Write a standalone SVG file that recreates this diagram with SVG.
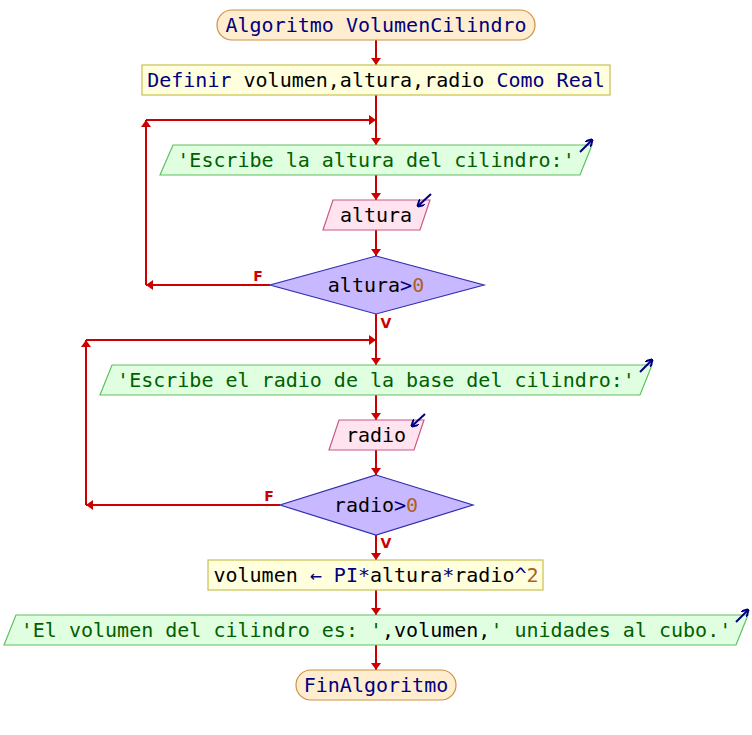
<svg xmlns="http://www.w3.org/2000/svg" width="752" height="735" viewBox="0 0 752 735">
<style>
text{font-family:"DejaVu Sans Mono","Liberation Mono",monospace;font-size:20px;text-anchor:middle}
.term{fill:#ffedd0;stroke:#d09040;stroke-width:1.2}
.proc{fill:#ffffdd;stroke:#c8c050;stroke-width:1.2}
.out{fill:#e0ffe0;stroke:#60c060;stroke-width:1.2}
.inp{fill:#ffe4f0;stroke:#c85888;stroke-width:1.2}
.dec{fill:#c8b8ff;stroke:#3030b0;stroke-width:1.2}
.kw{fill:#000080}
.blk{fill:#000000}
.str{fill:#006000}
.num{fill:#b06020}
.lbl{font-family:"DejaVu Sans",sans-serif;font-size:14px;font-weight:bold;fill:#cc0000}
.ic{stroke:#000080;stroke-width:2;fill:none}
#connectors line,#connectors polyline{stroke:#cc0000;stroke-width:2;fill:none}
</style>
<defs>
<marker id="ah" markerUnits="userSpaceOnUse" markerWidth="7" markerHeight="10" refX="7" refY="5" orient="auto">
<path d="M0,0 L7,5 L0,10 z" fill="#cc0000"/>
</marker>
<marker id="ih" markerUnits="userSpaceOnUse" markerWidth="7" markerHeight="8" refX="6" refY="4" orient="auto">
<path d="M0,0 L7,4 L0,8" fill="none" stroke="#000080" stroke-width="2"/>
</marker>
</defs>
<g id="connectors">
<line x1="376" y1="40" x2="376" y2="65" marker-end="url(#ah)"/>
<line x1="376" y1="95" x2="376" y2="145" marker-end="url(#ah)"/>
<line x1="376" y1="175" x2="376" y2="200" marker-end="url(#ah)"/>
<line x1="376" y1="230" x2="376" y2="256" marker-end="url(#ah)"/>
<line x1="270" y1="285" x2="146" y2="285" marker-end="url(#ah)"/>
<line x1="146" y1="285" x2="146" y2="120" marker-end="url(#ah)"/>
<line x1="146" y1="120" x2="376" y2="120" marker-end="url(#ah)"/>
<line x1="376" y1="314" x2="376" y2="365" marker-end="url(#ah)"/>
<line x1="376" y1="395" x2="376" y2="420" marker-end="url(#ah)"/>
<line x1="376" y1="450" x2="376" y2="475" marker-end="url(#ah)"/>
<line x1="280" y1="505" x2="86" y2="505" marker-end="url(#ah)"/>
<line x1="86" y1="505" x2="86" y2="340" marker-end="url(#ah)"/>
<line x1="86" y1="340" x2="376" y2="340" marker-end="url(#ah)"/>
<line x1="376" y1="535" x2="376" y2="560" marker-end="url(#ah)"/>
<line x1="376" y1="590" x2="376" y2="615" marker-end="url(#ah)"/>
<line x1="376" y1="645" x2="376" y2="670" marker-end="url(#ah)"/>
<text class="lbl" x="258" y="281">F</text>
<text class="lbl" x="386" y="328">V</text>
<text class="lbl" x="269" y="501">F</text>
<text class="lbl" x="386" y="548">V</text>
</g>
<g id="start">
<rect class="term" x="217" y="10" width="318" height="30" rx="15"/>
<text x="376" y="32" class="kw">Algoritmo VolumenCilindro</text>
</g>
<g id="definir">
<rect class="proc" x="142" y="65" width="468" height="30"/>
<text x="376" y="87"><tspan class="kw">Definir</tspan><tspan class="blk"> volumen,altura,radio </tspan><tspan class="kw">Como Real</tspan></text>
</g>
<g id="out1">
<polygon class="out" points="173,145 592,145 580,175 160,175"/>
<text x="376" y="167" class="str">'Escribe la altura del cilindro:'</text>
<line class="ic" x1="580" y1="152" x2="592" y2="140" marker-end="url(#ih)"/>
</g>
<g id="in1">
<polygon class="inp" points="333,200 430,200 420,230 323,230"/>
<text x="376" y="222" class="blk">altura</text>
<line class="ic" x1="431" y1="194" x2="418" y2="206" marker-end="url(#ih)"/>
</g>
<g id="dec1">
<polygon class="dec" points="376,256 484,285 376,314 270,285"/>
<text x="376" y="292"><tspan class="blk">altura</tspan><tspan class="kw">&gt;</tspan><tspan class="num">0</tspan></text>
</g>
<g id="out2">
<polygon class="out" points="112,365 652,365 640,395 100,395"/>
<text x="376" y="387" class="str">'Escribe el radio de la base del cilindro:'</text>
<line class="ic" x1="640" y1="372" x2="652" y2="360" marker-end="url(#ih)"/>
</g>
<g id="in2">
<polygon class="inp" points="339,420 424,420 414,450 329,450"/>
<text x="376" y="442" class="blk">radio</text>
<line class="ic" x1="425" y1="414" x2="412" y2="426" marker-end="url(#ih)"/>
</g>
<g id="dec2">
<polygon class="dec" points="376,475 473,505 376,535 280,505"/>
<text x="376" y="512"><tspan class="blk">radio</tspan><tspan class="kw">&gt;</tspan><tspan class="num">0</tspan></text>
</g>
<g id="assign">
<rect class="proc" x="208" y="560" width="335" height="30"/>
<text x="376" y="582"><tspan class="blk">volumen </tspan><tspan class="kw">←</tspan><tspan class="blk"> </tspan><tspan class="kw">PI*</tspan><tspan class="blk">altura</tspan><tspan class="kw">*</tspan><tspan class="blk">radio</tspan><tspan class="kw">^</tspan><tspan class="num">2</tspan></text>
</g>
<g id="out3">
<polygon class="out" points="16,615 748,615 736,645 4,645"/>
<text x="376" y="637"><tspan class="str">'El volumen del cilindro es: '</tspan><tspan class="blk">,volumen,</tspan><tspan class="str">' unidades al cubo.'</tspan></text>
<line class="ic" x1="736" y1="622" x2="748" y2="610" marker-end="url(#ih)"/>
</g>
<g id="end">
<rect class="term" x="296" y="670" width="160" height="30" rx="15"/>
<text x="376" y="692" class="kw">FinAlgoritmo</text>
</g>
</svg>
